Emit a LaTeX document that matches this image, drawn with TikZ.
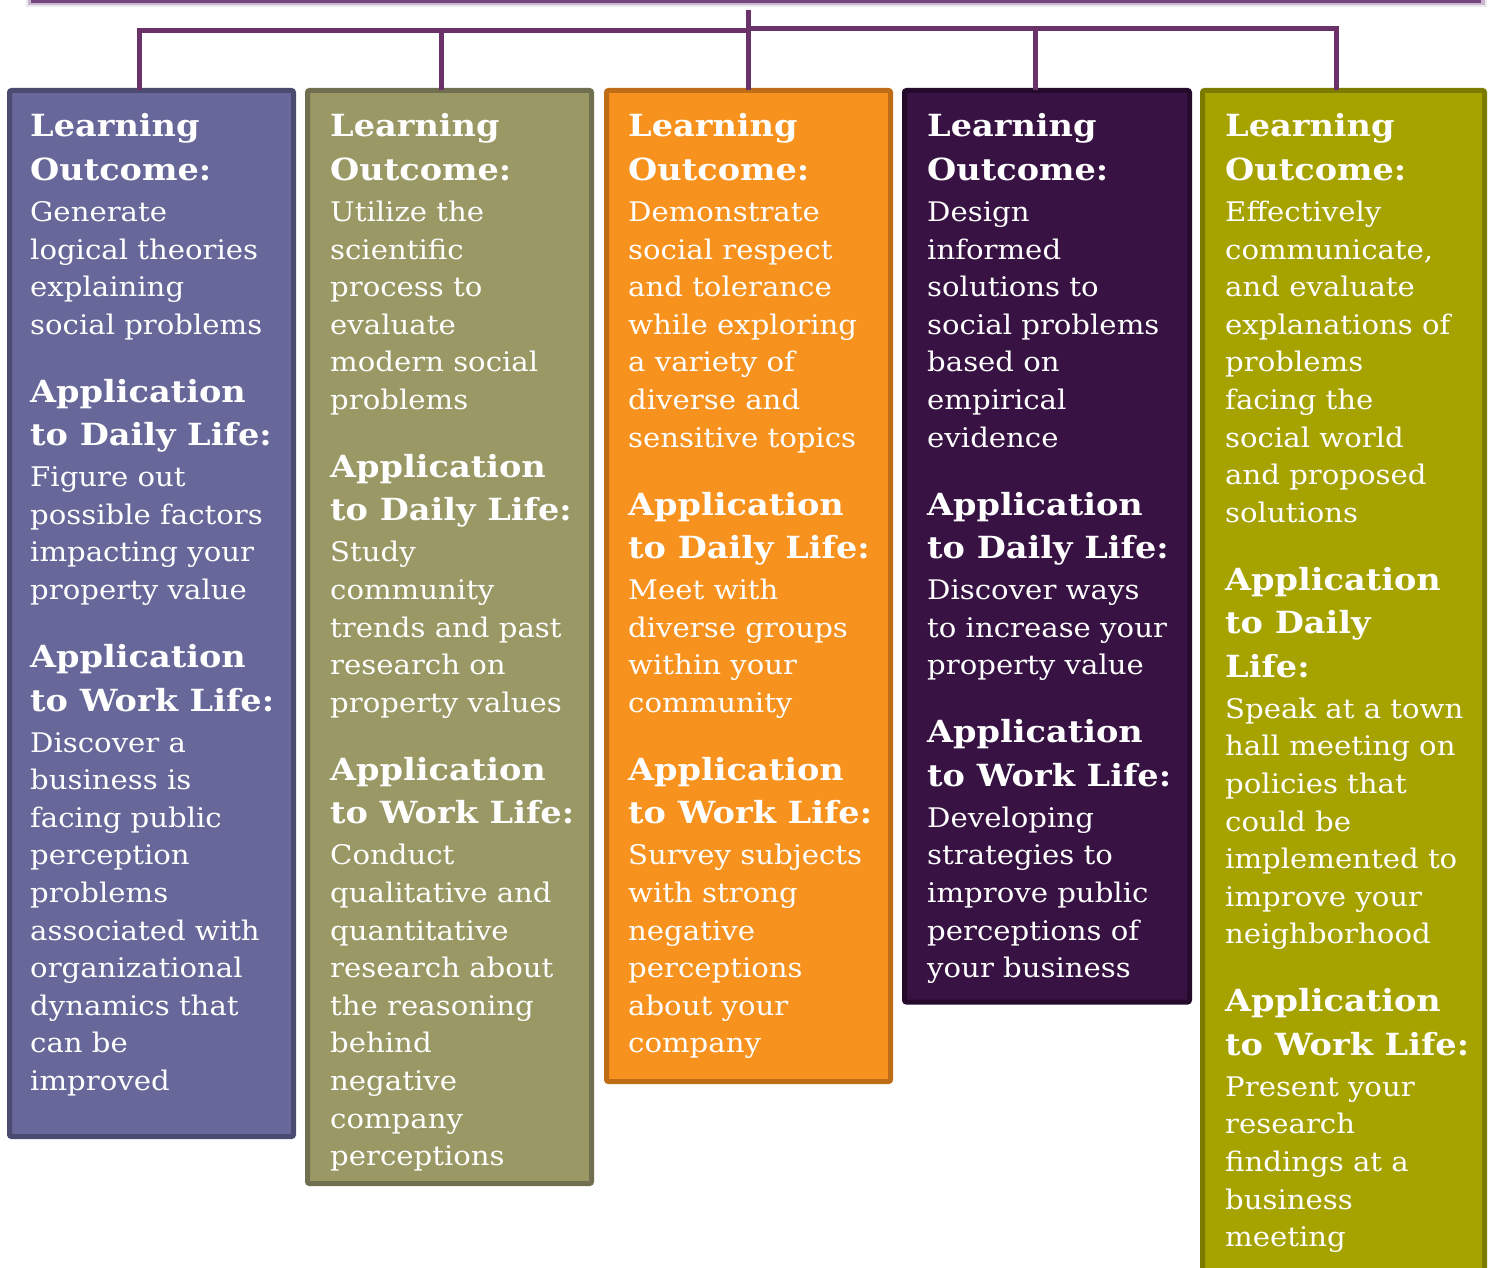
\documentclass[tikz,border=0pt]{standalone}
\usepackage{fontspec}
\setmainfont{DejaVu Serif}[FakeStretch=1.08,BoldFeatures={FakeStretch=1.1}]
\definecolor{linkc}{HTML}{6B3169}
\definecolor{barc}{HTML}{74457E}
\definecolor{fillA}{HTML}{67679A}\definecolor{edgeA}{HTML}{4B4B72}
\definecolor{fillB}{HTML}{9A9966}\definecolor{edgeB}{HTML}{707050}
\definecolor{fillC}{HTML}{F7921F}\definecolor{edgeC}{HTML}{BF6C16}
\definecolor{fillD}{HTML}{371242}\definecolor{edgeD}{HTML}{240B2C}
\definecolor{fillE}{HTML}{A6A200}\definecolor{edgeE}{HTML}{7D7A00}
% heading and body paragraphs
\newcommand{\hdpar}[1]{{\fontsize{30.5}{43.5}\selectfont\bfseries #1\par}}
\newcommand{\bdpar}[1]{\vspace{3.4pt}{\fontsize{27}{37.6}\selectfont #1\par}\vspace{24.5pt}}
\begin{document}
\begin{tikzpicture}[x=1pt,y=-1pt,
  colbox/.style={rectangle, rounded corners=2pt, line width=5pt, inner sep=0pt,
    outer sep=0pt, minimum width=284pt, anchor=north west},
  coltext/.style={anchor=base west, inner sep=0pt, text width=300pt, align=flush left,
    text=white},
  link/.style={draw=linkc, line width=5pt}]
\clip (0,0) rectangle (1494,1268);
\fill[white] (0,0) rectangle (1494,1268);

% bar along the top with its soft shadow
\fill[barc, opacity=0.12] (26,-12) rectangle (1487,7);
\fill[barc, opacity=0.3] (28,-12) rectangle (1485,5);
\node[fill=barc, minimum width=1450pt, minimum height=15pt, inner sep=0pt,
  anchor=south west] (topbar) at (31,3) {};

% the five columns
\node[colbox, fill=fillA, draw=edgeA, minimum height=1046pt] (b1) at (9.5,90.5) {};
\node[colbox, fill=fillB, draw=edgeB, minimum height=1093pt] (b2) at (307.5,90.5) {};
\node[colbox, fill=fillC, draw=edgeC, minimum height=991pt] (b3) at (606.5,90.5) {};
\node[colbox, fill=fillD, draw=edgeD, minimum width=285pt, minimum height=911.5pt] (b4) at (904.5,90.5) {};
\node[colbox, fill=fillE, draw=edgeE, minimum width=282pt, minimum height=1230pt] (b5) at (1202.5,90.5) {};

% connectors from the top bar to the columns
\coordinate (stem) at (748,10);
\coordinate (hubL) at (748,31);
\coordinate (hubR) at (748,29);
\coordinate (d1) at (139,31);
\coordinate (d2) at (441,31);
\coordinate (d4) at (1035,29);
\coordinate (d5) at (1336,29);
\draw[link] (stem) -- (stem |- b3.north);
\draw[link] (d1 |- b1.north) -- (d1) -- (hubL);
\draw[link] (d2 |- b2.north) -- (d2);
\draw[link] (hubR) -- ([xshift=2.5pt]d5);
\draw[link] (d4 |- b4.north) -- (d4);
\draw[link] (d5 |- b5.north) -- (d5);

% column texts
\node[coltext] (t1) at (30,137) {%
\hdpar{Learning\\Outcome:}
\bdpar{Generate\\logical theories\\explaining\\social problems}
\hdpar{Application\\to Daily Life:}
\bdpar{Figure out\\possible factors\\impacting your\\property value}
\hdpar{Application\\to Work Life:}
\bdpar{Discover a\\business is\\facing public\\perception\\problems\\associated with\\organizational\\dynamics that\\can be\\improved}};

\node[coltext] (t2) at (330,137) {%
\hdpar{Learning\\Outcome:}
\bdpar{Utilize the\\scientific\\process to\\evaluate\\modern social\\problems}
\hdpar{Application\\to Daily Life:}
\bdpar{Study\\community\\trends and past\\research on\\property values}
\hdpar{Application\\to Work Life:}
\bdpar{Conduct\\qualitative and\\quantitative\\research about\\the reasoning\\behind\\negative\\company\\perceptions}};

\node[coltext] (t3) at (628,137) {%
\hdpar{Learning\\Outcome:}
\bdpar{Demonstrate\\social respect\\and tolerance\\while exploring\\a variety of\\diverse and\\sensitive topics}
\hdpar{Application\\to Daily Life:}
\bdpar{Meet with\\diverse groups\\within your\\community}
\hdpar{Application\\to Work Life:}
\bdpar{Survey subjects\\with strong\\negative\\perceptions\\about your\\company}};

\node[coltext] (t4) at (927,137) {%
\hdpar{Learning\\Outcome:}
\bdpar{Design\\informed\\solutions to\\social problems\\based on\\empirical\\evidence}
\hdpar{Application\\to Daily Life:}
\bdpar{Discover ways\\to increase your\\property value}
\hdpar{Application\\to Work Life:}
\bdpar{Developing\\strategies to\\improve public\\perceptions of\\your business}};

\node[coltext] (t5) at (1225,137) {%
\hdpar{Learning\\Outcome:}
\bdpar{Effectively\\communicate,\\and evaluate\\explanations of\\problems\\facing the\\social world\\and proposed\\solutions}
\hdpar{Application\\to Daily\\Life:}
\bdpar{Speak at a town\\hall meeting on\\policies that\\could be\\implemented to\\improve your\\neighborhood}
\hdpar{Application\\to Work Life:}
\bdpar{Present your\\research\\findings at a\\business\\meeting}};
\end{tikzpicture}
\end{document}
